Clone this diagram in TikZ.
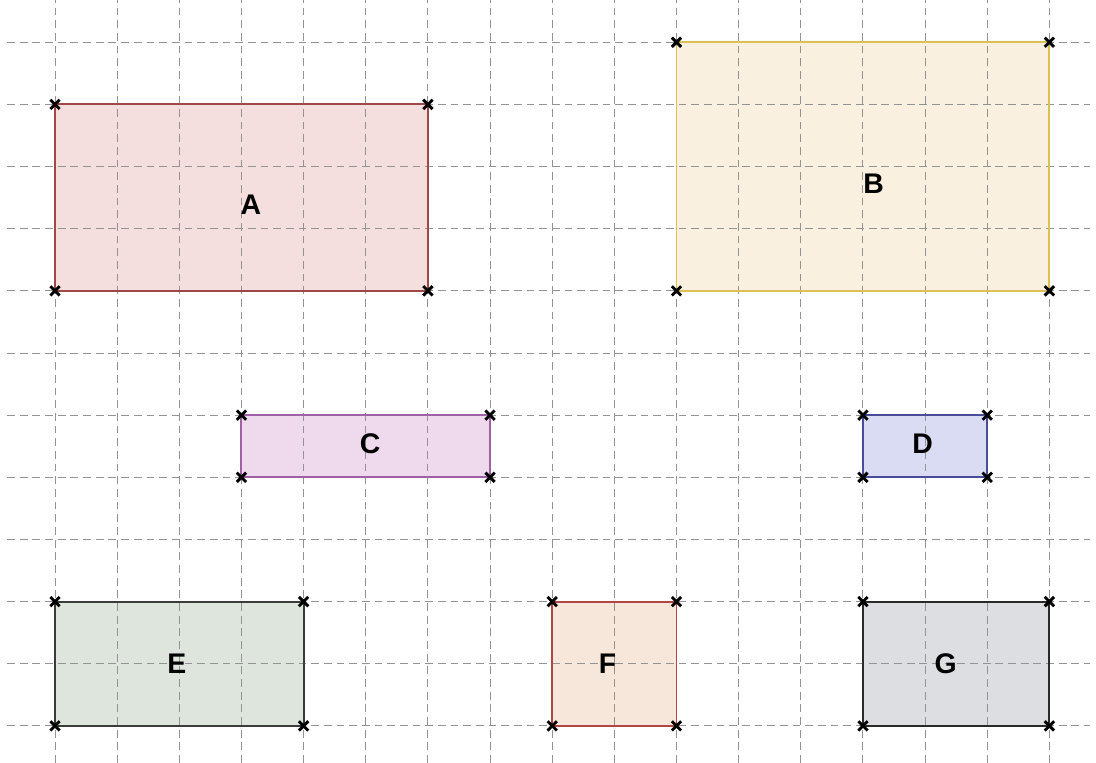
\documentclass[tikz,border=0pt]{standalone}
\usepackage{fontspec}
\setmainfont{Liberation Sans}
\usetikzlibrary{positioning}

\definecolor{fillA}{HTML}{F4DEDE}
\definecolor{lineA}{HTML}{A04848}
\definecolor{fillB}{HTML}{FAF0DF}
\definecolor{lineB}{HTML}{DDC055}
\definecolor{fillC}{HTML}{EFD9EC}
\definecolor{lineC}{HTML}{A060A8}
\definecolor{fillD}{HTML}{D9DCF2}
\definecolor{lineD}{HTML}{4A4C9A}
\definecolor{fillE}{HTML}{DDE5DD}
\definecolor{lineE}{HTML}{3A3A3A}
\definecolor{fillF}{HTML}{F7E7DA}
\definecolor{lineF}{HTML}{B04646}
\definecolor{fillG}{HTML}{DDDEE1}
\definecolor{lineG}{HTML}{2A2A2A}

\begin{document}
\begin{tikzpicture}
\tikzset{
  gridline/.style={draw=gray!85, line width=0.45pt, dash pattern=on 3.6pt off 2.2pt},
  rect/.style={line width=0.9pt},
  letter/.style={font=\fontsize{13}{15}\selectfont\bfseries},
  corner/.pic={\draw[line width=1.3pt] (-0.075,-0.075) -- (0.075,0.075) (-0.075,0.075) -- (0.075,-0.075);}
}

\useasboundingbox (-0.885,-0.595) rectangle (16.75,11.68);

% rectangles
\filldraw[rect, draw=lineA, fill=fillA] (0,7) coordinate (A1) rectangle (6,10) coordinate (A2);
\filldraw[rect, draw=lineB, fill=fillB] (10,7) coordinate (B1) rectangle (16,11) coordinate (B2);
\filldraw[rect, draw=lineC, fill=fillC] (3,4) coordinate (C1) rectangle (7,5) coordinate (C2);
\filldraw[rect, draw=lineD, fill=fillD] (13,4) coordinate (D1) rectangle (15,5) coordinate (D2);
\filldraw[rect, draw=lineE, fill=fillE] (0,0) coordinate (E1) rectangle (4,2) coordinate (E2);
\filldraw[rect, draw=lineF, fill=fillF] (8,0) coordinate (F1) rectangle (10,2) coordinate (F2);
\filldraw[rect, draw=lineG, fill=fillG] (13,0) coordinate (G1) rectangle (16,2) coordinate (G2);

% grid
\foreach \i in {0,...,16}
  \draw[gridline] (\i,-0.595) -- (\i,11.68);
\foreach \j in {0,...,11}
  \draw[gridline] (-0.77,\j) -- (16.66,\j);

% borders again over the grid
\draw[rect, lineA] (A1) rectangle (A2);
\draw[rect, lineB] (B1) rectangle (B2);
\draw[rect, lineC] (C1) rectangle (C2);
\draw[rect, lineD] (D1) rectangle (D2);
\draw[rect, lineE] (E1) rectangle (E2);
\draw[rect, lineF] (F1) rectangle (F2);
\draw[rect, lineG] (G1) rectangle (G2);

% corner marks
\foreach \r in {A,B,C,D,E,F,G} {
  \pic at (\r1) {corner};
  \pic at (\r2) {corner};
  \pic at (\r1 -| \r2) {corner};
  \pic at (\r2 -| \r1) {corner};
}

\node[letter] (labA) at (3.15,8.39) {A};
\node[letter] (labB) at (13.17,8.73) {B};
\node[letter] (labC) at (5.07,4.54) {C};
\node[letter] (labD) at (13.96,4.54) {D};
\node[letter] (labE) at (1.96,1.0) {E};
\node[letter] (labF) at (8.89,1.0) {F};
\node[letter] (labG) at (14.33,1.0) {G};
\end{tikzpicture}
\end{document}
